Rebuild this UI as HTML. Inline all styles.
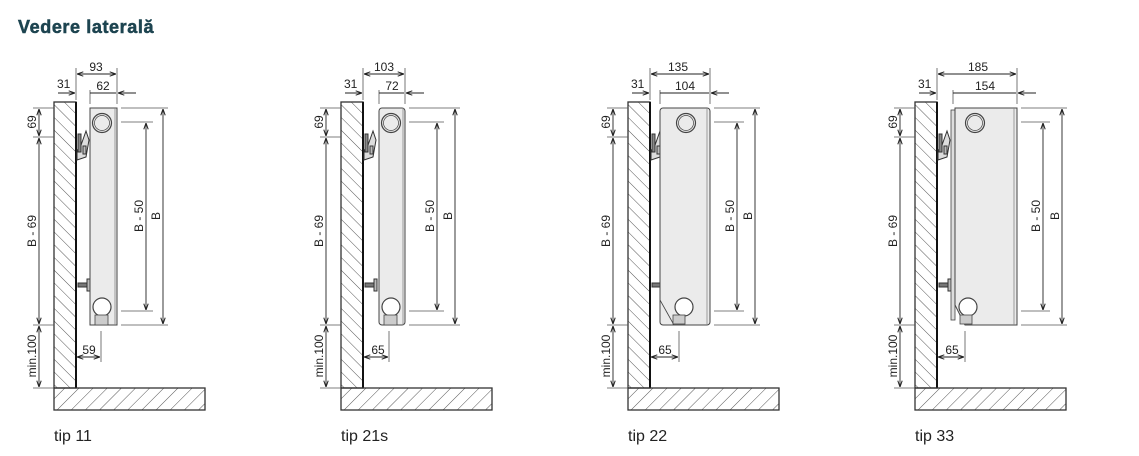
<!DOCTYPE html>
<html><head><meta charset="utf-8"><style>
html,body{margin:0;padding:0;background:#fff;width:1139px;height:456px;overflow:hidden}
svg{display:block}
text{font-family:"Liberation Sans",sans-serif;fill:#222}
</style></head><body>
<svg width="1139" height="456" viewBox="0 0 1139 456">
<defs>
<pattern id="h" patternUnits="userSpaceOnUse" width="9" height="9" patternTransform="rotate(-45)"><line x1="0" y1="0" x2="0" y2="9" stroke="#444" stroke-width="0.9"/></pattern>
<pattern id="h2" patternUnits="userSpaceOnUse" width="10" height="10" patternTransform="rotate(45)"><line x1="0" y1="0" x2="0" y2="10" stroke="#444" stroke-width="0.9"/></pattern>
<marker id="a" viewBox="0 0 10 10" refX="10" refY="5" markerWidth="7" markerHeight="7" orient="auto-start-reverse"><path d="M0,1.5 L10,5 L0,8.5" fill="none" stroke="#222" stroke-width="1.6"/></marker>
<g id="common">
 <rect x="54" y="102" width="22" height="286" fill="url(#h)" stroke="#333" stroke-width="1.3"/>
 <line x1="76" y1="102" x2="76" y2="388" stroke="#111" stroke-width="2"/>
 <rect x="54" y="388" width="151" height="22" fill="url(#h2)" stroke="#333" stroke-width="1.3"/>
 <g stroke="#555" stroke-width="0.8">
  <line x1="33" y1="108" x2="54" y2="108"/><line x1="33" y1="137" x2="54" y2="137"/>
  <line x1="33" y1="325" x2="54" y2="325"/><line x1="33" y1="388" x2="54" y2="388"/>
 </g>
 <g stroke="#222" stroke-width="0.9" fill="none">
  <line x1="39" y1="109" x2="39" y2="136" marker-start="url(#a)" marker-end="url(#a)"/>
  <line x1="39" y1="138" x2="39" y2="324" marker-start="url(#a)" marker-end="url(#a)"/>
  <line x1="39" y1="326" x2="39" y2="387" marker-start="url(#a)" marker-end="url(#a)"/>
 </g>
 <text transform="translate(36,122) rotate(-90)" font-size="12" text-anchor="middle">69</text>
 <text transform="translate(36,231) rotate(-90)" font-size="12" text-anchor="middle">B - 69</text>
 <text transform="translate(36,356) rotate(-90)" font-size="12" text-anchor="middle">min.100</text>
 <text x="57" y="88" font-size="12">31</text>
 <line x1="58" y1="93" x2="75" y2="93" stroke="#222" stroke-width="0.9" marker-end="url(#a)"/>
 <line x1="76" y1="68" x2="76" y2="100" stroke="#555" stroke-width="0.8"/>
 <g stroke="#333" stroke-width="1" fill="#ddd">
  <path d="M77,160 L86,157 L89,140 L86,131 L80,148 L77,150 Z"/>
  <rect x="78" y="134" width="3" height="18" fill="#888"/>
  <rect x="83" y="146" width="3" height="8" fill="#bbb"/>
  <rect x="78" y="283" width="9" height="4" fill="#777"/>
  <rect x="87" y="279" width="3" height="12" fill="#bbb"/>
 </g>
</g>
</defs>

<text x="18" y="33" font-size="18" font-weight="bold" letter-spacing="0.6" style="fill:#1d4450;stroke:#1d4450;stroke-width:0.5">Vedere laterală</text>

<!-- D1 -->
<g>
 <use href="#common"/>
 <rect x="90" y="108" width="27" height="217" fill="#ebebeb" stroke="#444" stroke-width="1"/>
 <line x1="115" y1="108" x2="115" y2="325" stroke="#888" stroke-width="0.8"/>
 <circle cx="102" cy="123" r="9.5" fill="none" stroke="#444" stroke-width="1.2"/><circle cx="102" cy="123" r="7.5" fill="none" stroke="#444" stroke-width="0.7"/>
 <circle cx="102" cy="307" r="9" fill="#fff" stroke="#444" stroke-width="1.2"/>
 <rect x="95" y="315" width="13" height="10" fill="#ccc" stroke="#444" stroke-width="0.8"/>
 <g stroke="#555" stroke-width="0.8"><line x1="117" y1="68" x2="117" y2="104"/><line x1="90" y1="90" x2="90" y2="104"/>
  <line x1="121" y1="108" x2="168" y2="108"/><line x1="121" y1="122" x2="153" y2="122"/><line x1="121" y1="311" x2="153" y2="311"/><line x1="121" y1="325" x2="168" y2="325"/><line x1="101" y1="331" x2="101" y2="362"/></g>
 <g stroke="#222" stroke-width="0.9"><line x1="77" y1="74" x2="116" y2="74" marker-start="url(#a)" marker-end="url(#a)"/>
  <line x1="90" y1="93" x2="116" y2="93"/><line x1="136" y1="93" x2="118" y2="93" marker-end="url(#a)"/>
  <line x1="146" y1="123" x2="146" y2="310" marker-start="url(#a)" marker-end="url(#a)"/>
  <line x1="163" y1="109" x2="163" y2="324" marker-start="url(#a)" marker-end="url(#a)"/>
  <line x1="77" y1="357" x2="100" y2="357" marker-start="url(#a)" marker-end="url(#a)"/></g>
 <text x="96" y="71" font-size="12" text-anchor="middle">93</text><text x="103" y="90" font-size="12" text-anchor="middle">62</text>
 <text transform="translate(143,216) rotate(-90)" font-size="12" text-anchor="middle">B - 50</text>
 <text transform="translate(160,216) rotate(-90)" font-size="12" text-anchor="middle">B</text>
 <text x="89" y="354" font-size="12" text-anchor="middle">59</text>
 <text x="54" y="441" font-size="16">tip 11</text>
</g>

<!-- D2 -->
<g transform="translate(287,0)">
 <use href="#common"/>
 <rect x="92" y="108" width="26" height="217" rx="3" fill="#ebebeb" stroke="#444" stroke-width="1"/>
 <line x1="116" y1="108" x2="116" y2="325" stroke="#888" stroke-width="0.8"/>
 <circle cx="104" cy="123" r="9.5" fill="none" stroke="#444" stroke-width="1.2"/><circle cx="104" cy="123" r="7.5" fill="none" stroke="#444" stroke-width="0.7"/>
 <circle cx="104" cy="307" r="9" fill="#fff" stroke="#444" stroke-width="1.2"/>
 <rect x="97" y="315" width="13" height="10" fill="#ccc" stroke="#444" stroke-width="0.8"/>
 <g stroke="#555" stroke-width="0.8"><line x1="118" y1="68" x2="118" y2="104"/><line x1="92" y1="90" x2="92" y2="104"/>
  <line x1="122" y1="108" x2="173" y2="108"/><line x1="122" y1="122" x2="157" y2="122"/><line x1="122" y1="311" x2="157" y2="311"/><line x1="122" y1="325" x2="173" y2="325"/><line x1="102" y1="331" x2="102" y2="362"/></g>
 <g stroke="#222" stroke-width="0.9"><line x1="77" y1="74" x2="117" y2="74" marker-start="url(#a)" marker-end="url(#a)"/>
  <line x1="92" y1="93" x2="117" y2="93"/><line x1="137" y1="93" x2="119" y2="93" marker-end="url(#a)"/>
  <line x1="150" y1="123" x2="150" y2="310" marker-start="url(#a)" marker-end="url(#a)"/>
  <line x1="168" y1="109" x2="168" y2="324" marker-start="url(#a)" marker-end="url(#a)"/>
  <line x1="77" y1="357" x2="101" y2="357" marker-start="url(#a)" marker-end="url(#a)"/></g>
 <text x="97" y="71" font-size="12" text-anchor="middle">103</text><text x="105" y="90" font-size="12" text-anchor="middle">72</text>
 <text transform="translate(147,216) rotate(-90)" font-size="12" text-anchor="middle">B - 50</text>
 <text transform="translate(165,216) rotate(-90)" font-size="12" text-anchor="middle">B</text>
 <text x="91" y="354" font-size="12" text-anchor="middle">65</text>
 <text x="54" y="441" font-size="16">tip 21s</text>
</g>

<!-- D3 -->
<g transform="translate(574,0)">
 <use href="#common"/>
 <rect x="86" y="108" width="50" height="217" rx="3" fill="#ebebeb" stroke="#444" stroke-width="1"/>
 <line x1="133" y1="108" x2="133" y2="325" stroke="#888" stroke-width="0.8"/>
 <path d="M86,300 L100,325" stroke="#444" stroke-width="0.8"/>
 <circle cx="112" cy="123" r="9.5" fill="none" stroke="#444" stroke-width="1.2"/><circle cx="112" cy="123" r="7.5" fill="none" stroke="#444" stroke-width="0.7"/>
 <circle cx="110" cy="307" r="9" fill="#fff" stroke="#444" stroke-width="1.2"/>
 <rect x="99" y="315" width="12" height="9" fill="#ccc" stroke="#444" stroke-width="0.8"/>
 <g stroke="#555" stroke-width="0.8"><line x1="136" y1="68" x2="136" y2="104"/><line x1="86" y1="90" x2="86" y2="104"/>
  <line x1="140" y1="108" x2="186" y2="108"/><line x1="140" y1="122" x2="170" y2="122"/><line x1="140" y1="311" x2="170" y2="311"/><line x1="140" y1="325" x2="186" y2="325"/><line x1="105" y1="331" x2="105" y2="362"/></g>
 <g stroke="#222" stroke-width="0.9"><line x1="77" y1="74" x2="135" y2="74" marker-start="url(#a)" marker-end="url(#a)"/>
  <line x1="86" y1="93" x2="135" y2="93"/><line x1="155" y1="93" x2="137" y2="93" marker-end="url(#a)"/>
  <line x1="163" y1="123" x2="163" y2="310" marker-start="url(#a)" marker-end="url(#a)"/>
  <line x1="181" y1="109" x2="181" y2="324" marker-start="url(#a)" marker-end="url(#a)"/>
  <line x1="77" y1="357" x2="104" y2="357" marker-start="url(#a)" marker-end="url(#a)"/></g>
 <text x="104" y="71" font-size="12" text-anchor="middle">135</text><text x="111" y="90" font-size="12" text-anchor="middle">104</text>
 <text transform="translate(160,216) rotate(-90)" font-size="12" text-anchor="middle">B - 50</text>
 <text transform="translate(178,216) rotate(-90)" font-size="12" text-anchor="middle">B</text>
 <text x="91" y="354" font-size="12" text-anchor="middle">65</text>
 <text x="54" y="441" font-size="16">tip 22</text>
</g>

<!-- D4 -->
<g transform="translate(861,0)">
 <use href="#common"/>
 <rect x="90" y="110" width="4" height="210" fill="#ddd" stroke="#444" stroke-width="0.8"/>
 <path d="M94,108 L156,108 L156,325 L104,325 L94,305 Z" fill="#ebebeb" stroke="#444" stroke-width="1"/>
 <line x1="153" y1="108" x2="153" y2="325" stroke="#888" stroke-width="0.8"/>
 <circle cx="114" cy="123" r="9.5" fill="none" stroke="#444" stroke-width="1.2"/><circle cx="114" cy="123" r="7.5" fill="none" stroke="#444" stroke-width="0.7"/>
 <circle cx="107" cy="307" r="9" fill="#fff" stroke="#444" stroke-width="1.2"/>
 <rect x="99" y="315" width="12" height="9" fill="#ccc" stroke="#444" stroke-width="0.8"/>
 <g stroke="#555" stroke-width="0.8"><line x1="156" y1="68" x2="156" y2="104"/><line x1="92" y1="90" x2="92" y2="104"/>
  <line x1="160" y1="108" x2="206" y2="108"/><line x1="160" y1="122" x2="189" y2="122"/><line x1="160" y1="311" x2="189" y2="311"/><line x1="160" y1="325" x2="206" y2="325"/><line x1="104" y1="331" x2="104" y2="362"/></g>
 <g stroke="#222" stroke-width="0.9"><line x1="77" y1="74" x2="155" y2="74" marker-start="url(#a)" marker-end="url(#a)"/>
  <line x1="92" y1="93" x2="155" y2="93"/><line x1="175" y1="93" x2="157" y2="93" marker-end="url(#a)"/>
  <line x1="182" y1="123" x2="182" y2="310" marker-start="url(#a)" marker-end="url(#a)"/>
  <line x1="201" y1="109" x2="201" y2="324" marker-start="url(#a)" marker-end="url(#a)"/>
  <line x1="77" y1="357" x2="103" y2="357" marker-start="url(#a)" marker-end="url(#a)"/></g>
 <text x="117" y="71" font-size="12" text-anchor="middle">185</text><text x="124" y="90" font-size="12" text-anchor="middle">154</text>
 <text transform="translate(179,216) rotate(-90)" font-size="12" text-anchor="middle">B - 50</text>
 <text transform="translate(198,216) rotate(-90)" font-size="12" text-anchor="middle">B</text>
 <text x="91" y="354" font-size="12" text-anchor="middle">65</text>
 <text x="54" y="441" font-size="16">tip 33</text>
</g>
</svg>
</body></html>
